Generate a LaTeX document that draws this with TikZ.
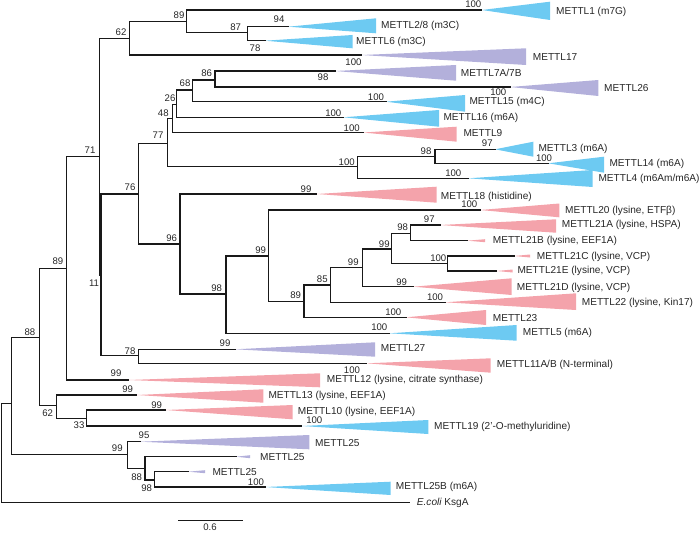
\documentclass[tikz,border=0pt]{standalone}
\usepackage{fontspec}
\setmainfont{Liberation Sans}
\definecolor{cblue}{HTML}{6DCAF2}
\definecolor{cpurple}{HTML}{B3B0DB}
\definecolor{cpink}{HTML}{F4A3AB}
\definecolor{txt}{HTML}{262626}
\newcommand\clade[3]{\draw[branch] (#2) -- (#2 -| #1) -- (#3 -| #1) -- (#3);}
\newcommand\tri[5]{\fill[#2] (#1) -- (#3,#4) -- (#3,#5) -- cycle;}
\tikzset{
  branch/.style={line width=1.45pt, line join=miter, line cap=rect, black!90},
  bs/.style={inner sep=0pt, text=txt, font=\fontsize{9.6}{11}\selectfont},
  tip/.style={inner sep=0pt, anchor=west, text=txt, font=\fontsize{10.1}{11}\selectfont}
}
\begin{document}
\begin{tikzpicture}[x=1pt,y=-1pt]
\useasboundingbox (0,0) rectangle (700,532);
% ---------- coordinates ----------
\coordinate (R) at (1.7,450);
\coordinate (N0) at (11.7,403.3);
\coordinate (Ec) at (409.3,502.5);
\coordinate (N88) at (39.3,337.3);
\coordinate (N99c) at (127.3,454.5);
\coordinate (N89) at (66.7,268.3);
\coordinate (N62b) at (56.7,405.7);
\coordinate (N71) at (99.5,156.7);
\coordinate (M12) at (128.3,380);
\coordinate (N62a) at (129.3,38.3);
\coordinate (N11) at (101.2,275);
\coordinate (N89a) at (186.7,21.7);
\coordinate (M17) at (361,55);
\coordinate (M1) at (481.7,10);
\coordinate (N87) at (247.7,32.3);
\coordinate (M28) at (288.3,26.7);
\coordinate (M6) at (265,40.7);
\coordinate (N76) at (138.3,194);
\coordinate (N78) at (138.3,355.7);
\coordinate (N77) at (167.3,143.3);
\coordinate (N96) at (180,244);
\coordinate (N48) at (172.7,118.3);
\coordinate (NM) at (357.3,166.7);
\coordinate (N26) at (176.7,104.3);
\coordinate (M9) at (363.3,132.5);
\coordinate (N68) at (192.7,90);
\coordinate (M16) at (343.3,117.3);
\coordinate (N86) at (215,80);
\coordinate (M15) at (386,101.7);
\coordinate (M7) at (335,71);
\coordinate (M26) at (510,87);
\coordinate (N98m) at (435,156.7);
\coordinate (M4) at (468.3,178.3);
\coordinate (M3) at (495,149.3);
\coordinate (M14) at (548.3,163.3);
\coordinate (M18) at (316.7,194);
\coordinate (N98) at (226,294);
\coordinate (N99a) at (268.3,256);
\coordinate (M5) at (389.3,333.3);
\coordinate (M20) at (480,210);
\coordinate (N89b) at (304,301.7);
\coordinate (N85) at (330.7,285);
\coordinate (M23) at (406,317.3);
\coordinate (N99b) at (362.7,267.7);
\coordinate (M22) at (445,302.3);
\coordinate (N99d) at (391.7,249);
\coordinate (M21D) at (413.3,286.7);
\coordinate (N98c) at (410.7,233.3);
\coordinate (N100c) at (447.3,263.3);
\coordinate (M21A) at (440,225);
\coordinate (M21B) at (467.3,240.7);
\coordinate (M21C) at (514,256);
\coordinate (M21E) at (496.7,271);
\coordinate (M27) at (235,349.3);
\coordinate (M11) at (366.7,363.3);
\coordinate (M13) at (136.7,395);
\coordinate (N33) at (86.7,418.3);
\coordinate (M10) at (165.7,410);
\coordinate (M19) at (301.7,426);
\coordinate (M25a) at (140,441.7);
\coordinate (N88c) at (145,468.3);
\coordinate (M25b) at (236,456.7);
\coordinate (N98d) at (154.3,480);
\coordinate (M25c) at (188.3,471.7);
\coordinate (M25B) at (265,487);
% ---------- collapsed clades ----------
\tri{M1}{cblue}{550}{1.7}{20}
\tri{M28}{cblue}{376}{18.3}{33.3}
\tri{M6}{cblue}{352.5}{35}{48.3}
\tri{M17}{cpurple}{526}{48.3}{65}
\tri{M7}{cpurple}{456}{65}{80.7}
\tri{M26}{cpurple}{598.3}{80}{96}
\tri{M15}{cblue}{465}{95}{111.7}
\tri{M16}{cblue}{439}{110}{126.7}
\tri{M9}{cpink}{456.7}{126.7}{141.7}
\tri{M3}{cblue}{533.3}{141.7}{156.7}
\tri{M14}{cblue}{604}{156.7}{172.7}
\tri{M4}{cblue}{592.7}{170}{187}
\tri{M18}{cpink}{436.7}{186.7}{202.7}
\tri{M20}{cpink}{559.3}{203.5}{217.3}
\tri{M21A}{cpink}{556}{219.3}{232.7}
\tri{M21B}{cpink}{485}{239.2}{242.2}
\tri{M21C}{cpink}{530}{254.5}{257.5}
\tri{M21E}{cpink}{512.7}{269.5}{272.5}
\tri{M21D}{cpink}{511.7}{278.3}{295}
\tri{M22}{cpink}{576}{293.3}{310}
\tri{M23}{cpink}{486}{310}{325}
\tri{M5}{cblue}{516.7}{325}{340.7}
\tri{M27}{cpurple}{375}{342.3}{356.7}
\tri{M11}{cpink}{490.7}{358.3}{372.7}
\tri{M12}{cpink}{320}{373.3}{387.3}
\tri{M13}{cpink}{263.3}{389.3}{402.7}
\tri{M10}{cpink}{292.7}{405}{419.3}
\tri{M19}{cblue}{428.3}{420}{434}
\tri{M25a}{cpurple}{309.3}{435}{449.3}
\tri{M25b}{cpurple}{250}{455.2}{458.2}
\tri{M25c}{cpurple}{205}{470.2}{473.2}
\tri{M25B}{cblue}{390.7}{481.7}{495}
% ---------- tree ----------
\clade{R}{N0}{Ec}
\clade{N0}{N88}{N99c}
\clade{N88}{N89}{N62b}
\clade{N89}{N71}{M12}
\clade{N71}{N62a}{N11}
\clade{N62a}{N89a}{M17}
\clade{N89a}{M1}{N87}
\clade{N87}{M28}{M6}
\clade{N11}{N76}{N78}
\clade{N76}{N77}{N96}
\clade{N77}{N48}{NM}
\clade{N48}{N26}{M9}
\clade{N26}{N68}{M16}
\clade{N68}{N86}{M15}
\clade{N86}{M7}{M26}
\clade{NM}{N98m}{M4}
\clade{N98m}{M3}{M14}
\clade{N96}{M18}{N98}
\clade{N98}{N99a}{M5}
\clade{N99a}{M20}{N89b}
\clade{N89b}{N85}{M23}
\clade{N85}{N99b}{M22}
\clade{N99b}{N99d}{M21D}
\clade{N99d}{N98c}{N100c}
\clade{N98c}{M21A}{M21B}
\clade{N100c}{M21C}{M21E}
\clade{N78}{M27}{M11}
\clade{N62b}{M13}{N33}
\clade{N33}{M10}{M19}
\clade{N99c}{M25a}{N88c}
\clade{N88c}{M25b}{N98d}
\clade{N98d}{M25c}{M25B}
% ---------- bootstrap values ----------
\node[bs] (b01) at (179,15) {89};
\node[bs] (b02) at (235.7,26.7) {87};
\node[bs] (b03) at (279,19.3) {94};
\node[bs] (b04) at (255,48.3) {78};
\node[bs] (b05) at (121,32.3) {62};
\node[bs] (b06) at (473.3,4.5) {100};
\node[bs] (b07) at (353.5,62) {100};
\node[bs] (b08) at (206.7,73.3) {86};
\node[bs] (b09) at (323,77.3) {98};
\node[bs] (b10) at (498.3,92.5) {100};
\node[bs] (b11) at (185,83.3) {68};
\node[bs] (b12) at (376,97.3) {100};
\node[bs] (b13) at (170,98.3) {26};
\node[bs] (b14) at (333.3,112.7) {100};
\node[bs] (b15) at (163.3,113.3) {48};
\node[bs] (b16) at (351.7,128.3) {100};
\node[bs] (b17) at (158,135.5) {77};
\node[bs] (b18) at (346.7,162.5) {100};
\node[bs] (b19) at (426,150.7) {98};
\node[bs] (b20) at (487.3,142.7) {97};
\node[bs] (b21) at (544,158.5) {100};
\node[bs] (b22) at (453.3,173.3) {100};
\node[bs] (b23) at (90,150) {71};
\node[bs] (b24) at (130,187) {76};
\node[bs] (b25) at (306,189.3) {99};
\node[bs] (b26) at (171.7,237.7) {96};
\node[bs] (b27) at (469.3,204.3) {100};
\node[bs] (b28) at (429.3,219.3) {97};
\node[bs] (b29) at (402.7,227.3) {98};
\node[bs] (b30) at (384.3,244) {99};
\node[bs] (b31) at (260.7,250) {99};
\node[bs] (b32) at (438.3,258.3) {100};
\node[bs] (b33) at (353.3,261.7) {99};
\node[bs] (b34) at (322.3,279.3) {85};
\node[bs] (b35) at (401.7,281.7) {99};
\node[bs] (b36) at (216.7,288.3) {98};
\node[bs] (b37) at (295.7,295) {89};
\node[bs] (b38) at (435,296.7) {100};
\node[bs] (b39) at (393.3,311.7) {100};
\node[bs] (b40) at (379.3,327.3) {100};
\node[bs] (b41) at (58,260.7) {89};
\node[bs] (b42) at (94,283) {11};
\node[bs] (b43) at (30,331.7) {88};
\node[bs] (b44) at (225,343.3) {99};
\node[bs] (b45) at (130,350.7) {78};
\node[bs] (b46) at (352,370) {100};
\node[bs] (b47) at (116,373.3) {99};
\node[bs] (b48) at (127.7,389.3) {99};
\node[bs] (b49) at (156.7,405) {99};
\node[bs] (b50) at (47.7,413.3) {62};
\node[bs] (b51) at (314.3,420) {100};
\node[bs] (b52) at (79,425) {33};
\node[bs] (b53) at (144,435) {95};
\node[bs] (b54) at (117.3,448.3) {99};
\node[bs] (b55) at (136.7,476.7) {88};
\node[bs] (b56) at (256,481.7) {100};
\node[bs] (b57) at (146.7,487.7) {98};
% ---------- tip labels ----------
\node[tip] (t01) at (556,11.7) {METTL1 (m7G)};
\node[tip] (t02) at (381,26) {METTL2/8 (m3C)};
\node[tip] (t03) at (356,41.7) {METTL6 (m3C)};
\node[tip] (t04) at (532.7,56.7) {METTL17};
\node[tip] (t05) at (460.7,73.3) {METTL7A/7B};
\node[tip] (t06) at (604,88.3) {METTL26};
\node[tip] (t07) at (469.3,102) {METTL15 (m4C)};
\node[tip] (t08) at (443.3,118.3) {METTL16 (m6A)};
\node[tip] (t09) at (463.3,133.3) {METTL9};
\node[tip] (t10) at (538.3,149.3) {METTL3 (m6A)};
\node[tip] (t11) at (609.3,164.3) {METTL14 (m6A)};
\node[tip] (t12) at (598.3,179.3) {METTL4 (m6Am/m6A)};
\node[tip] (t13) at (440.7,196.5) {METTL18 (histidine)};
\node[tip] (t14) at (565,210.7) {METTL20 (lysine, ETFβ)};
\node[tip] (t15) at (561.7,225) {METTL21A (lysine, HSPA)};
\node[tip] (t16) at (492.7,240.7) {METTL21B (lysine, EEF1A)};
\node[tip] (t17) at (536.7,256.7) {METTL21C (lysine, VCP)};
\node[tip] (t18) at (517.3,271) {METTL21E (lysine, VCP)};
\node[tip] (t19) at (516.7,288.3) {METTL21D (lysine, VCP)};
\node[tip] (t20) at (581.7,303.3) {METTL22 (lysine, Kin17)};
\node[tip] (t21) at (492.7,317.7) {METTL23};
\node[tip] (t22) at (522.7,333.3) {METTL5 (m6A)};
\node[tip] (t23) at (380.7,348.3) {METTL27};
\node[tip] (t24) at (496.7,365) {METTL11A/B (N-terminal)};
\node[tip] (t25) at (326.7,380) {METTL12 (lysine, citrate synthase)};
\node[tip] (t26) at (268.3,396) {METTL13 (lysine, EEF1A)};
\node[tip] (t27) at (297.7,412.3) {METTL10 (lysine, EEF1A)};
\node[tip] (t28) at (434,427.3) {METTL19 (2’-O-methyluridine)};
\node[tip] (t29) at (315,442.7) {METTL25};
\node[tip] (t30) at (260,456.7) {METTL25};
\node[tip] (t31) at (212.3,471.7) {METTL25};
\node[tip] (t32) at (395.7,487.3) {METTL25B (m6A)};
\node[tip] (t33) at (416.7,503.3) {\itshape E.coli\upshape\ KsgA};
% ---------- scale bar ----------
\coordinate (sb1) at (178.3,520);
\coordinate (sb2) at (242.7,520);
\draw[branch, line width=1pt, line cap=butt] (sb1) -- (sb2);
\node[bs] (sbl) at (210,527.2) {0.6};
\end{tikzpicture}
\end{document}
